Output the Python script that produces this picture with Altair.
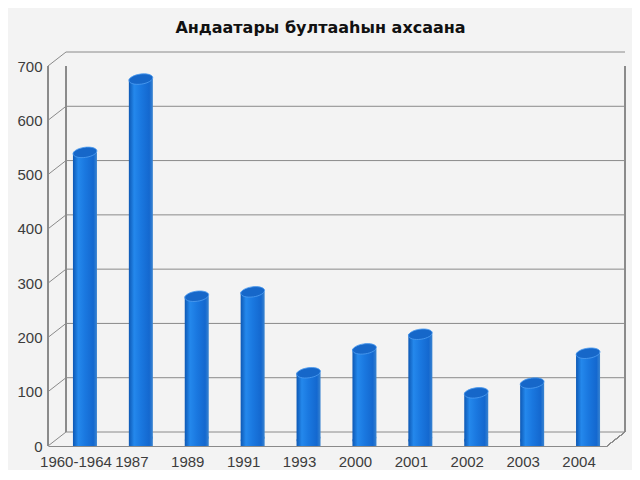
import altair as alt
import pandas as pd

# ---- data ----
years = ["1960-1964", "1987", "1989", "1991", "1993", "2000", "2001", "2002", "2003", "2004"]
counts = [528, 663, 263, 271, 122, 166, 193, 85, 103, 158]
tick_values = [0, 100, 200, 300, 400, 500, 600, 700]
title_text = "Андаатары бултааһын ахсаана"

bars_df = pd.DataFrame({"year": years, "count": counts})
ticks_df = pd.DataFrame({"v": tick_values})

# ---- styling (3D depth emulation) ----
W, H = 559, 394
DEPTH_X, DEPTH_Y = 18, 14
YMAX = 725.8
UNIT = H / YMAX
DEPTH_V = DEPTH_Y / UNIT
GRID = "#8a8a8a"
FONT = "DejaVu Sans"
LFONT = "Liberation Sans"
LCOLOR = "#3c3c3c"

yscale = alt.Scale(domain=[0, YMAX], nice=False, zero=True)
xscale = alt.Scale(domain=years, paddingInner=0, paddingOuter=0)

x_enc = alt.X("year:N", scale=xscale, sort=years, title=None,
              axis=alt.Axis(labelAngle=0, ticks=False, domain=True, domainColor=GRID,
                            labelPadding=8, labelFont=LFONT, labelFontSize=15,
                            labelColor=LCOLOR, grid=False))

# back wall gridlines
grid = alt.Chart(ticks_df).mark_rule(color=GRID, strokeWidth=1, yOffset=-DEPTH_Y).encode(
    y=alt.Y("v:Q", scale=yscale,
            axis=alt.Axis(values=tick_values, ticks=False, domain=False, grid=False,
                          labelPadding=6, labelFont=LFONT, labelFontSize=15,
                          labelColor=LCOLOR, title=None)),
    x=alt.value(DEPTH_X), x2=alt.value(W + DEPTH_X),
)

# back wall vertical edges
wall_l = alt.Chart(ticks_df).mark_rule(color=GRID, strokeWidth=1, yOffset=-DEPTH_Y).encode(
    y=alt.datum(0, scale=yscale), y2=alt.datum(700), x=alt.value(DEPTH_X))
wall_r = alt.Chart(ticks_df).mark_rule(color=GRID, strokeWidth=1, yOffset=-DEPTH_Y).encode(
    y=alt.datum(0, scale=yscale), y2=alt.datum(700), x=alt.value(W + DEPTH_X))

# slanted ticks from front axis to back wall
slants = alt.Chart(ticks_df).transform_calculate(v2=f"datum.v + {DEPTH_V}").mark_rule(
    color=GRID, strokeWidth=1).encode(
    y=alt.Y("v:Q", scale=yscale), y2="v2:Q", x=alt.value(0), x2=alt.value(DEPTH_X))

# front axis line
front_axis = alt.Chart(ticks_df).mark_rule(color=GRID, strokeWidth=1).encode(
    y=alt.datum(0, scale=yscale), y2=alt.datum(700), x=alt.value(0))

# right floor slant
floor_r = alt.Chart(ticks_df).mark_rule(color=GRID, strokeWidth=1).encode(
    y=alt.datum(0, scale=yscale), y2=alt.datum(DEPTH_V), x=alt.value(W), x2=alt.value(W + DEPTH_X))

bar_grad = alt.Gradient(
    gradient="linear", x1=0, x2=1, y1=0, y2=0,
    stops=[alt.GradientStop(color="#0d58b4", offset=0),
           alt.GradientStop(color="#2488ec", offset=0.22),
           alt.GradientStop(color="#1a78e0", offset=0.5),
           alt.GradientStop(color="#1468cf", offset=0.85),
           alt.GradientStop(color="#3a84d0", offset=1)])

ellipse = ("M -1 0 C -1 -0.232 -0.552 -0.42 0 -0.42 C 0.552 -0.42 1 -0.232 1 0 "
           "C 1 0.232 0.552 0.42 0 0.42 C -0.552 0.42 -1 0.232 -1 0 Z")

OX, OY = DEPTH_X / 2, -DEPTH_Y / 2

bottoms = alt.Chart(bars_df).mark_point(
    shape=ellipse, size=576, filled=True, fill=bar_grad, strokeWidth=0, opacity=1,
    xOffset=OX, yOffset=OY, angle=352).encode(
    x=x_enc, y=alt.datum(0, scale=yscale))

bars = alt.Chart(bars_df).mark_bar(size=24, xOffset=OX, yOffset=OY, fill=bar_grad).encode(
    x=x_enc, y=alt.Y("count:Q", scale=yscale), y2=alt.datum(0))

tops = alt.Chart(bars_df).mark_point(
    shape=ellipse, size=576, filled=True, fill="#1667c9", stroke="#4d9cf0",
    strokeWidth=0.8, opacity=1, xOffset=OX, yOffset=OY, angle=352).encode(
    x=x_enc, y=alt.Y("count:Q", scale=yscale))

chart = alt.layer(grid, wall_l, wall_r, slants, front_axis, floor_r, bottoms, bars, tops).properties(
    width=W, height=H,
    autosize=alt.AutoSizeParams(type="none"),
    padding={"left": 40, "top": 44, "right": 25, "bottom": 24},
    background="#f3f3f3",
    title=alt.TitleParams(title_text, font=FONT, fontSize=16, fontWeight="bold",
                          color="#111111", anchor="middle", frame="group",
                          offset=16, dx=-7),
).configure_view(stroke=None)

chart.save("out.html", embed_options={"renderer": "svg", "actions": False})
